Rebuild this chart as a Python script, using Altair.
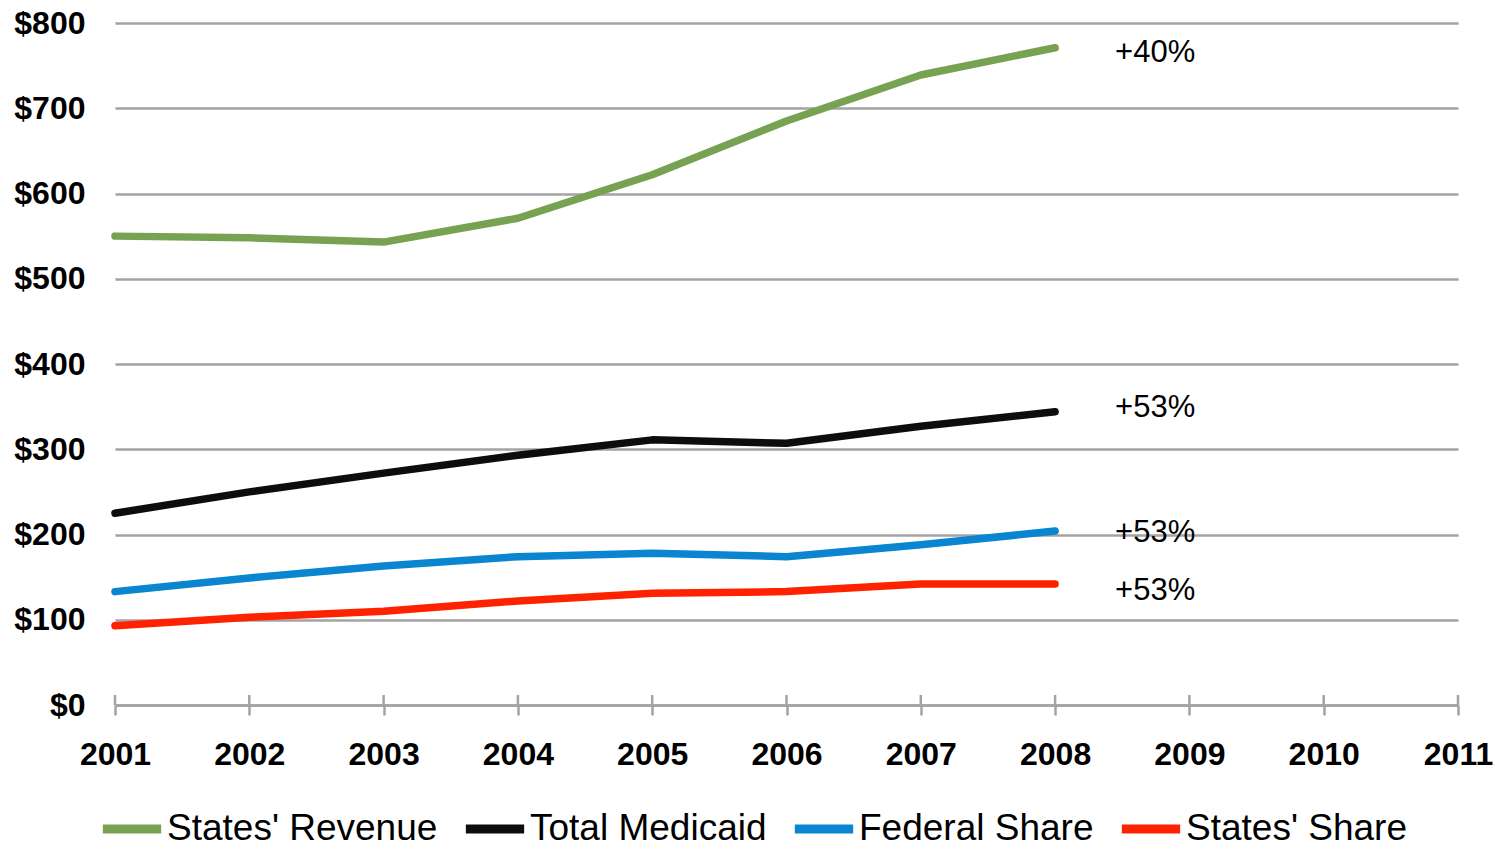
import altair as alt
import pandas as pd

# Medicaid spending vs. state revenue, billions of dollars
years = [2001, 2002, 2003, 2004, 2005, 2006, 2007, 2008]
states_revenue = [550, 548, 543, 571, 622, 685, 739, 771]
total_medicaid = [225, 250, 272, 293, 311, 307, 327, 344]
federal_share = [133, 149, 163, 174, 178, 174, 188, 204]
states_share = [93, 103, 110, 122, 131, 133, 142, 142]

series_names = ["States' Revenue", "Total Medicaid", "Federal Share", "States' Share"]
series_colors = ["#77a252", "#0d0d0d", "#0a85cf", "#ff2200"]
growth_labels = ["+40%", "+53%", "+53%", "+53%"]

axis_years = list(range(2001, 2012))
y_ticks = list(range(0, 801, 100))

rows = []
for name, vals in zip(series_names,
                      [states_revenue, total_medicaid, federal_share, states_share]):
    for yr, v in zip(years, vals):
        rows.append({"series": name, "year": yr, "value": v})
df = pd.DataFrame(rows)

end_df = df[df["year"] == years[-1]].copy()
end_df["label"] = end_df["series"].map(dict(zip(series_names, growth_labels)))

W, H = 1343, 682
GRID = "#a3a3a3"

x_scale = alt.Scale(domain=[2001, 2011], nice=False, zero=False)
y_scale = alt.Scale(domain=[0, 800], nice=False)

color = alt.Color(
    "series:N",
    scale=alt.Scale(domain=series_names, range=series_colors),
    sort=series_names,
    legend=alt.Legend(
        title=None,
        orient="none",
        direction="horizontal",
        legendX=-17,
        legendY=772,
        symbolType="stroke",
        symbolSize=3400,
        symbolStrokeWidth=9,
        labelFont="Liberation Sans",
        labelFontSize=37,
        labelColor="#000000",
        labelOffset=1,
        columnPadding=9,
        padding=0,
        labelLimit=400,
    ),
)

lines = alt.Chart(df).mark_line(strokeWidth=7.5, strokeCap="round", strokeJoin="round").encode(
    x=alt.X(
        "year:Q",
        scale=x_scale,
        axis=alt.Axis(
            title=None,
            values=axis_years,
            format="d",
            grid=False,
            domainColor=GRID,
            domainWidth=2.5,
            tickColor=GRID,
            tickWidth=2.5,
            tickSize=10,
            labelFont="Liberation Sans",
            labelFontWeight="bold",
            labelFontSize=32,
            labelColor="#000000",
            labelPadding=24,
            labelFlush=False,
        ),
    ),
    y=alt.Y(
        "value:Q",
        scale=y_scale,
        axis=alt.Axis(
            title=None,
            values=y_ticks,
            labelExpr="'$' + datum.value",
            domain=False,
            ticks=False,
            tickSize=0,
            gridColor=GRID,
            gridWidth=2.5,
            labelFont="Liberation Sans",
            labelFontWeight="bold",
            labelFontSize=32,
            labelColor="#000000",
            labelPadding=30,
        ),
    ),
    color=color,
    order="year:Q",
)

# tick marks that reach above the x axis line as well
tick_df = pd.DataFrame({"year": axis_years})
ticks_up = alt.Chart(tick_df).mark_rule(color=GRID, strokeWidth=2.5).encode(
    x=alt.X("year:Q", scale=x_scale),
    y=alt.value(H - 10),
    y2=alt.value(H),
)

# growth labels to the right of each series' last point
label_dy = {"States' Revenue": 5, "Total Medicaid": -4, "Federal Share": 2, "States' Share": 7}
label_layers = []
for name in series_names:
    label_layers.append(
        alt.Chart(end_df[end_df["series"] == name]).mark_text(
            align="left", baseline="middle", dx=60, dy=label_dy[name],
            font="Liberation Sans", fontSize=31, color="#000000",
        ).encode(
            x=alt.X("year:Q", scale=x_scale),
            y=alt.Y("value:Q", scale=y_scale),
            text="label:N",
        )
    )

chart = alt.layer(ticks_up, lines, *label_layers).properties(
    width=W,
    height=H,
    autosize=alt.AutoSizeParams(type="none"),
    padding={"left": 115, "top": 23, "right": 37, "bottom": 144},
    background="#ffffff",
).configure_view(stroke=None)

chart.save("out.html", embed_options={"renderer": "svg", "actions": False})
